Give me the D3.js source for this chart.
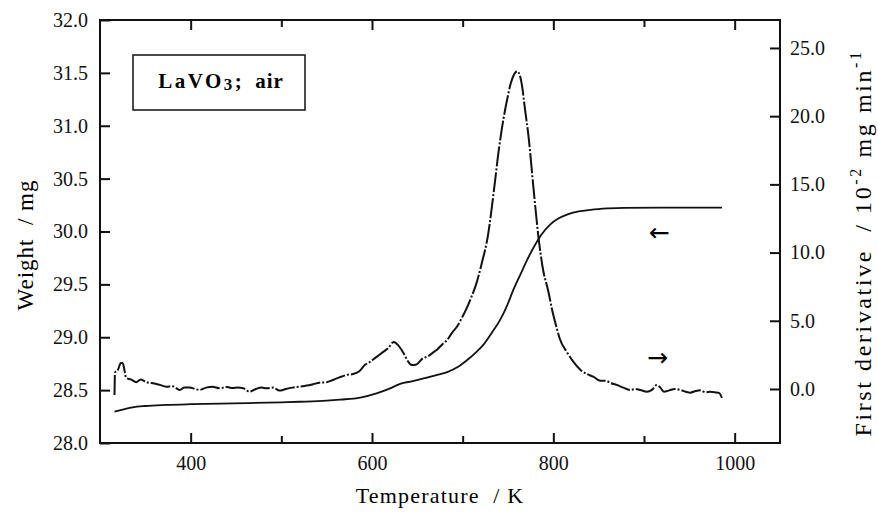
<!DOCTYPE html>
<html>
<head>
<meta charset="utf-8">
<script src="https://cdn.jsdelivr.net/npm/d3@7"></script>
<style>
  body { margin: 0; background: #fff; }
</style>
</head>
<body>
<div id="chart"></div>
<script>
// Weight curve (solid, left axis): temperature / K and weight / mg
const weightT = [316, 325, 336, 350, 373, 400, 447, 500, 520, 550, 565, 587, 605, 620, 631, 645, 657, 670, 683, 695, 705, 715, 723, 732, 741, 749, 756, 764, 771, 779, 786, 797, 805, 815, 828, 841, 860, 878, 920, 986];
const weightW = [28.296, 28.315, 28.337, 28.35, 28.36, 28.367, 28.375, 28.385, 28.39, 28.40, 28.41, 28.43, 28.47, 28.517, 28.56, 28.585, 28.61, 28.64, 28.67, 28.72, 28.785, 28.86, 28.93, 29.04, 29.16, 29.30, 29.45, 29.60, 29.73, 29.86, 29.96, 30.07, 30.12, 30.16, 30.19, 30.205, 30.218, 30.224, 30.225, 30.225];

// First derivative (dash-dot, right axis): temperature / K and 10^-2 mg/min
const derivT = [316, 316.5, 319.7, 323, 325, 329, 334, 340, 345, 351, 360, 366, 373, 380, 388, 393, 399, 405, 410, 417, 424, 432, 440, 446, 452, 458, 465, 472, 478, 484, 491, 498, 505, 512, 520, 528, 535, 542, 550, 557, 564, 572, 579, 586, 592, 598, 604, 612, 618, 624, 629, 635, 640, 644, 649, 656, 662, 668, 672, 678, 683, 688, 694, 699, 705, 710, 714, 721, 728, 734, 740, 745, 749, 753, 757, 760, 763, 766, 768, 773, 778, 784, 788, 795, 798, 804, 807, 815, 822, 830, 837, 844, 852, 858, 863, 870, 877, 885, 890, 896, 903, 909, 914, 918, 922, 928, 934, 940, 946, 951, 957, 962, 968, 973, 979, 983, 986];
const derivD = [-0.44, 1.2, 1.4, 1.9, 1.9, 0.8, 0.7, 0.5, 0.7, 0.5, 0.4, 0.3, 0.17, 0.2, -0.07, 0.1, 0.1, 0, -0.07, 0.1, 0.17, 0.05, 0.15, 0.07, 0.1, 0.05, -0.2, 0.0, 0.1, 0.05, 0.1, -0.12, 0, 0.1, 0.17, 0.25, 0.35, 0.46, 0.5, 0.66, 0.85, 1.03, 1.1, 1.3, 1.75, 2.0, 2.3, 2.7, 3.0, 3.45, 3.2, 2.6, 2.0, 1.76, 1.8, 2.25, 2.4, 2.7, 2.9, 3.3, 3.6, 4.1, 4.6, 5.2, 6.0, 6.8, 7.5, 9.2, 11.3, 14.3, 17.6, 19.8, 21.2, 22.4, 23.1, 23.3, 23.0, 22.0, 20.9, 18.3, 14.8, 10.9, 9.0, 7.0, 6.0, 4.4, 3.7, 2.7, 2.0, 1.4, 1.1, 0.9, 0.6, 0.6, 0.44, 0.3, 0.1, -0.07, 0.0, -0.07, -0.2, -0.05, 0.3, 0.1, -0.2, -0.1, 0.0, -0.07, -0.2, -0.27, -0.15, -0.1, -0.25, -0.2, -0.25, -0.3, -0.66];

// tick values
const xMajor = [400, 600, 800, 1000];
const xMinor = [500, 700, 900];
const leftTicks = [28.0, 28.5, 29.0, 29.5, 30.0, 30.5, 31.0, 31.5, 32.0];
const rightTicks = [0, 5, 10, 15, 20, 25];

const serif = '"Liberation Serif", "Times New Roman", "DejaVu Serif", serif';
const W = 878, H = 518;
const plot = { left: 100, right: 780, top: 20, bottom: 443 };

const svg = d3.select("#chart").append("svg")
    .attr("width", W)
    .attr("height", H)
    .style("font-family", serif);

const x = d3.scaleLinear().domain([300, 1050]).range([plot.left, plot.right]);
const yL = d3.scaleLinear().domain([28, 32]).range([plot.bottom, plot.top]);
const yR = d3.scaleLinear().domain([-3.96, 27.05]).range([plot.bottom, plot.top]);

// axes with inward ticks
function styleAxis(g) {
    g.attr("font-family", null).attr("font-size", null);
    g.select(".domain").remove();
    g.selectAll("line").attr("stroke", "#111").attr("stroke-width", 2);
    g.selectAll("text")
        .style("font-family", serif)
        .style("font-size", "20px")
        .attr("fill", "#111");
}

svg.append("g")
    .attr("transform", `translate(0,${plot.bottom})`)
    .call(d3.axisBottom(x).tickValues(xMajor).tickSize(-10).tickPadding(13).tickFormat(d3.format("d")))
    .call(styleAxis);
svg.append("g")
    .attr("transform", `translate(0,${plot.bottom})`)
    .call(d3.axisBottom(x).tickValues(xMinor).tickSize(-7).tickFormat(""))
    .call(styleAxis);
svg.append("g")
    .attr("transform", `translate(0,${plot.top})`)
    .call(d3.axisTop(x).tickValues(xMajor).tickSize(-10).tickFormat(""))
    .call(styleAxis);
svg.append("g")
    .attr("transform", `translate(0,${plot.top})`)
    .call(d3.axisTop(x).tickValues(xMinor).tickSize(-7).tickFormat(""))
    .call(styleAxis);

svg.append("g")
    .attr("transform", `translate(${plot.left},0)`)
    .call(d3.axisLeft(yL).tickValues(leftTicks).tickSize(-10).tickPadding(12).tickFormat(d3.format(".1f")))
    .call(styleAxis);
svg.append("g")
    .attr("transform", `translate(${plot.right},0)`)
    .call(d3.axisRight(yR).tickValues(rightTicks).tickSize(-10).tickPadding(10).tickFormat(d3.format(".1f")))
    .call(styleAxis);

// frame
svg.append("rect")
    .attr("x", plot.left)
    .attr("y", plot.top)
    .attr("width", plot.right - plot.left)
    .attr("height", plot.bottom - plot.top)
    .attr("fill", "none")
    .attr("stroke", "#111")
    .attr("stroke-width", 2);

// weight curve
const weightData = weightT.map((t, i) => ({ t, v: weightW[i] }));
svg.append("path")
    .datum(weightData)
    .attr("fill", "none")
    .attr("stroke", "#111")
    .attr("stroke-width", 1.8)
    .attr("d", d3.line().x(d => x(d.t)).y(d => yL(d.v)).curve(d3.curveMonotoneX));

// derivative curve (dash-dot)
const derivData = derivT.map((t, i) => ({ t, v: derivD[i] }));
svg.append("path")
    .datum(derivData)
    .attr("fill", "none")
    .attr("stroke", "#111")
    .attr("stroke-width", 2)
    .attr("stroke-dasharray", "20,2,2,2")
    .attr("d", d3.line().x(d => x(d.t)).y(d => yR(d.v)).curve(d3.curveMonotoneX));

// arrows pointing to the axis each curve belongs to
svg.append("text")
    .attr("x", x(917)).attr("y", yL(29.99) + 8)
    .attr("text-anchor", "middle")
    .style("font-family", '"DejaVu Sans", sans-serif')
    .style("font-size", "25px")
    .text("\u2190");
svg.append("text")
    .attr("x", x(915)).attr("y", yR(2.27) + 8)
    .attr("text-anchor", "middle")
    .style("font-family", '"DejaVu Sans", sans-serif')
    .style("font-size", "25px")
    .text("\u2192");

// legend box
svg.append("rect")
    .attr("x", 133).attr("y", 55)
    .attr("width", 172).attr("height", 55)
    .attr("fill", "#fff")
    .attr("stroke", "#111")
    .attr("stroke-width", 1.5);
const lt = svg.append("text")
    .attr("x", 221).attr("y", 88)
    .attr("text-anchor", "middle")
    .style("font-size", "21px")
    .style("font-weight", "bold")
    .style("letter-spacing", "2.5px");
lt.append("tspan").text("LaVO");
lt.append("tspan").style("font-size", "17px").attr("dy", 2).text("3");
lt.append("tspan").attr("dy", -2).style("letter-spacing", "1px").text(";\u00a0\u00a0air");

// axis titles
svg.append("text")
    .attr("transform", "translate(33,245) rotate(-90)")
    .attr("text-anchor", "middle")
    .style("font-size", "23px")
    .style("letter-spacing", "1px")
    .text("Weight\u00a0 /\u00a0mg");

svg.append("text")
    .attr("transform", "translate(440,503)")
    .attr("text-anchor", "middle")
    .style("font-size", "22px")
    .style("letter-spacing", "1.2px")
    .text("Temperature\u00a0 /\u00a0K");

const rt = svg.append("text")
    .attr("transform", "translate(871,243) rotate(-90)")
    .attr("text-anchor", "middle")
    .style("font-size", "24px")
    .style("letter-spacing", "2.6px");
rt.append("tspan").text("First derivative\u00a0 /\u00a010");
rt.append("tspan").style("font-size", "16px").attr("dy", -10).text("-2");
rt.append("tspan").attr("dy", 10).text("\u00a0mg min");
rt.append("tspan").style("font-size", "16px").attr("dy", -10).text("-1");
</script>
</body>
</html>
